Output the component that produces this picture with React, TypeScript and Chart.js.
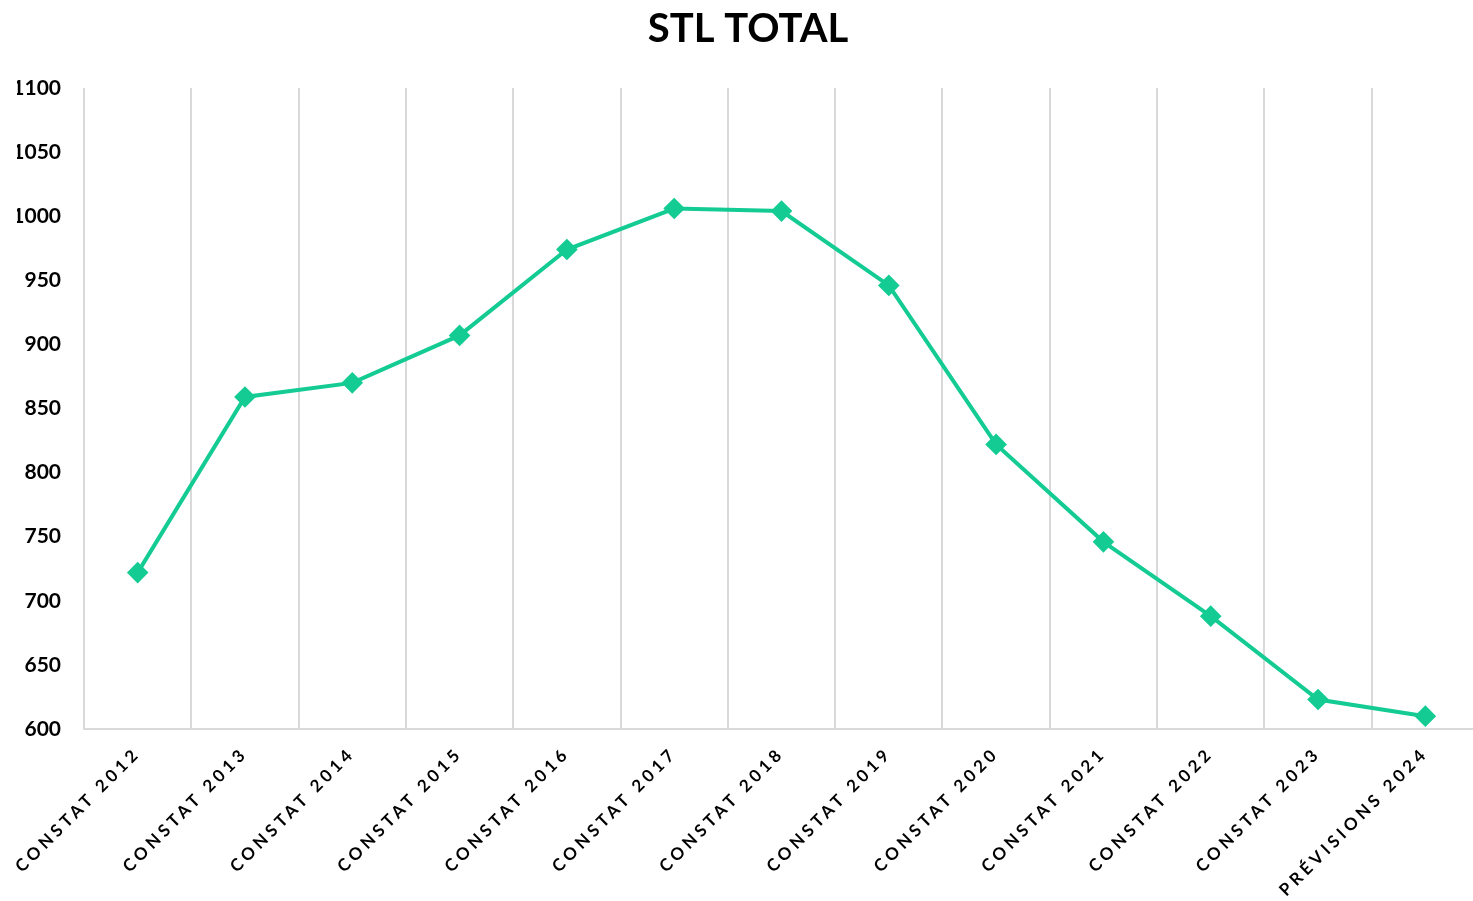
import React, { useEffect, useRef } from "react";
import { Chart, registerables } from "chart.js";

Chart.register(...registerables);

const categories = [
  "CONSTAT 2012",
  "CONSTAT 2013",
  "CONSTAT 2014",
  "CONSTAT 2015",
  "CONSTAT 2016",
  "CONSTAT 2017",
  "CONSTAT 2018",
  "CONSTAT 2019",
  "CONSTAT 2020",
  "CONSTAT 2021",
  "CONSTAT 2022",
  "CONSTAT 2023",
  "PRÉVISIONS 2024",
];
const stlTotal = [722, 859, 870, 907, 974, 1006, 1004, 946, 822, 746, 688, 623, 610];
const titleText = "STL TOTAL";
const yMin = 600;
const yMax = 1100;
const yStep = 50;

const FONT = "Lato, 'Open Sans', 'DejaVu Sans', sans-serif";
const GREEN = "#14CC93";
const GRID = "#d9d9d9";

const letterSpacingPlugin = {
  id: "xLetterSpacing",
  beforeDraw(chart: any) {
    const xs = chart.scales.x;
    if (xs && !xs.__patched) {
      const orig = xs.drawLabels.bind(xs);
      xs.drawLabels = (ca: any) => {
        const ctx = chart.ctx;
        ctx.save();
        (ctx as any).letterSpacing = "4px";
        orig(ca);
        ctx.restore();
      };
      xs.__patched = true;
    }
  },
};

export default function App() {
  const ref = useRef<HTMLCanvasElement | null>(null);
  useEffect(() => {
    document.body.style.margin = "0";
    document.body.style.overflow = "hidden";
    if (!ref.current) return;
    const chart = new Chart(ref.current, {
      type: "line",
      data: {
        labels: categories,
        datasets: [
          {
            label: titleText,
            data: stlTotal,
            borderColor: GREEN,
            backgroundColor: GREEN,
            borderWidth: 4,
            pointStyle: "rectRot",
            pointRadius: 8,
            pointHoverRadius: 8,
            pointBackgroundColor: GREEN,
            pointBorderColor: GREEN,
            tension: 0,
          },
        ],
      },
      options: {
        animation: false,
        responsive: false,
        maintainAspectRatio: false,
        layout: { padding: { left: 17, right: 17, top: 0, bottom: 0 } },
        plugins: {
          legend: { display: false },
          tooltip: { enabled: false },
          title: {
            display: true,
            text: titleText,
            color: "#000",
            font: { family: FONT, size: 40, weight: "bold" },
            padding: { top: 5, bottom: 35 },
          },
        },
        scales: {
          x: {
            offset: true,
            afterFit: (s: any) => {
              s.paddingLeft = 0;
              s.paddingRight = 0;
              s.height = 172;
            },
            grid: {
              display: true,
              offset: true,
              color: GRID,
              lineWidth: 2,
              drawTicks: false,
            },
            border: { display: true, color: GRID, width: 2 },
            ticks: {
              color: "#000",
              font: { family: FONT, size: 17, weight: "bold" },
              maxRotation: 45,
              minRotation: 45,
              autoSkip: false,
              padding: 14,
            },
          },
          y: {
            min: yMin,
            max: yMax,
            afterFit: (s: any) => {
              s.width = 67;
            },
            grid: { display: false, drawTicks: false },
            border: { display: false },
            ticks: {
              stepSize: yStep,
              color: "#000",
              font: { family: FONT, size: 21, weight: "bold" },
              padding: 23,
              callback: (v: any) => String(v),
            },
          },
        },
      },
      plugins: [letterSpacingPlugin],
    });
    return () => chart.destroy();
  }, []);
  return (
    <div style={{ width: 1473, height: 901, overflow: "hidden" }}>
      <canvas ref={ref} width={1496} height={901} style={{ display: "block" }} />
    </div>
  );
}
